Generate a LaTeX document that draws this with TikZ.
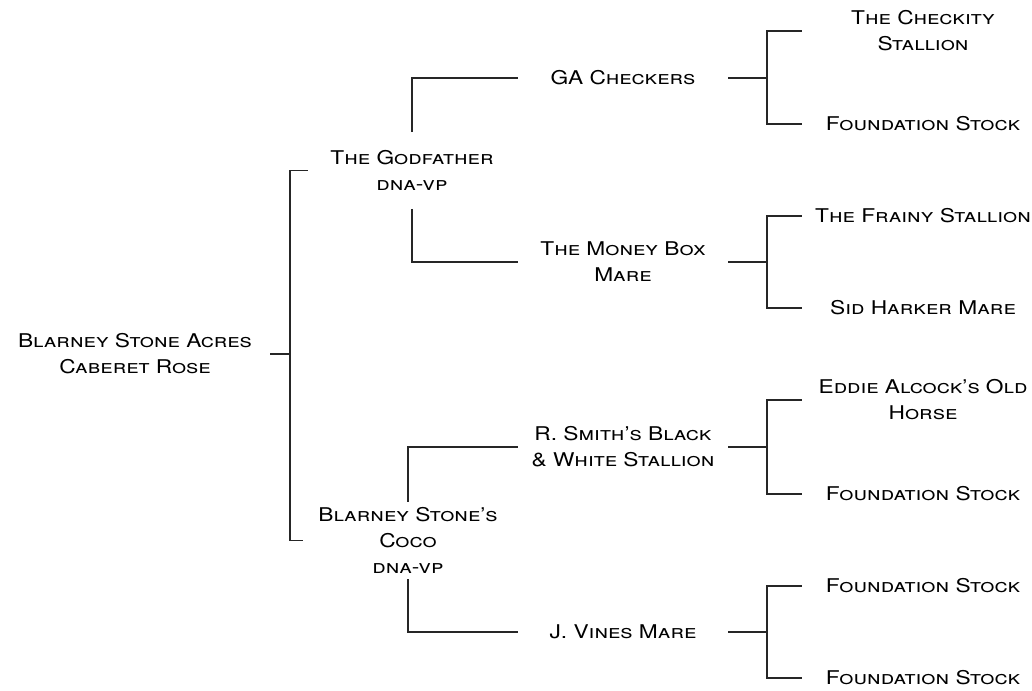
\documentclass[tikz,border=0pt]{standalone}
\usepackage{fontspec}
\setmainfont[FakeStretch=1.2]{TeX Gyre Heros}
\usetikzlibrary{positioning}

\tikzset{
  horse/.style={inner sep=0pt, align=center, font=\fontsize{14.2}{19.5}\selectfont\scshape},
  gen1/.style={horse, minimum height=57pt},
  gen2/.style={horse, minimum width=157.5pt},
  gen3/.style={horse, minimum width=181.5pt},
  bar/.style={line width=0.9pt, color=black!85}
}

\begin{document}
\begin{tikzpicture}[x=0.75pt, y=-0.75pt]
  \useasboundingbox (0,0) rectangle (1032,690);
  % horses
  \node[horse, minimum width=202.5pt] (root) at (135,354) {Blarney Stone Acres\\Caberet Rose};
  \node[gen1, minimum width=156pt] (sire) at (412,170.5) {The Godfather\\dna-vp};
  \node[gen1, minimum width=157.5pt, minimum height=57.75pt] (dam) at (408,540.5) {Blarney Stone's\\Coco\\dna-vp};
  \node[gen2] (ss) at (623,78) {GA Checkers};
  \node[gen2] (sd) at (623,262) {The Money Box\\Mare};
  \node[gen2] (ds) at (623,447) {R. Smith's Black\\\& White Stallion};
  \node[gen2] (dd) at (623,632) {J. Vines Mare};
  \node[gen3] (sss) at (923,31) {The Checkity\\Stallion};
  \node[gen3] (ssd) at (923,124) {Foundation Stock};
  \node[gen3] (sds) at (923,216) {The Frainy Stallion};
  \node[gen3] (sdd) at (923,308) {Sid Harker Mare};
  \node[gen3] (dss) at (923,400) {Eddie Alcock's Old\\Horse};
  \node[gen3] (dsd) at (923,494) {Foundation Stock};
  \node[gen3] (dds) at (923,586) {Foundation Stock};
  \node[gen3] (ddd) at (923,678) {Foundation Stock};
  % forks
  \coordinate (rootfork) at (290,354);
  \coordinate (ssfork) at (767,78);
  \coordinate (sdfork) at (767,262);
  \coordinate (dsfork) at (767,447);
  \coordinate (ddfork) at (767,632);
  % lines
  \draw[bar] (root.east) -- (rootfork);
  \draw[bar] (sire.west) -| (rootfork) |- (dam.west);
  \draw[bar] (sire.north) |- (ss.west);
  \draw[bar] (sire.south) |- (sd.west);
  \draw[bar] (dam.north) |- (ds.west);
  \draw[bar] (dam.south) |- (dd.west);
  \foreach \a/\b/\c in {ss/sss/ssd, sd/sds/sdd, ds/dss/dsd, dd/dds/ddd} {
    \draw[bar] (\a.east) -- (\a fork);
    \draw[bar] (\b.west) -| (\a fork) |- (\c.west);
  }
\end{tikzpicture}
\end{document}
